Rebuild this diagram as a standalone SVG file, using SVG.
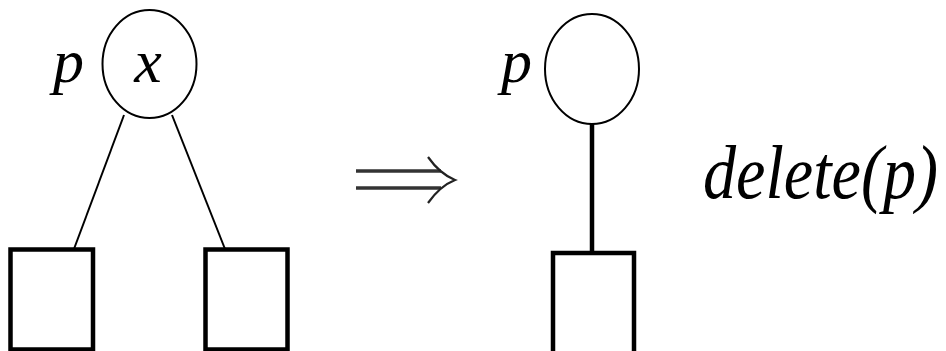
<svg xmlns="http://www.w3.org/2000/svg" width="946" height="351" viewBox="0 0 946 351">
<style>
.lbl{font-family:"Liberation Serif","Times New Roman",serif;font-style:italic;fill:#000}
.circ{fill:none;stroke:#000;stroke-width:2}
.box{fill:#fff;stroke:#000;stroke-width:4.5}
.thin{stroke:#000;stroke-width:2;fill:none}
.thick{stroke:#000;stroke-width:4.5;fill:none}
</style>
<rect width="946" height="351" fill="#fff"/>
<g id="connectors">
<line class="thin" x1="124" y1="115" x2="74" y2="249"/>
<line class="thin" x1="172" y1="115" x2="225" y2="249"/>
<line class="thick" x1="592" y1="124" x2="592" y2="252"/>
</g>
<g id="node-x">
<ellipse class="circ" cx="149.5" cy="64" rx="47" ry="54"/>
<text class="lbl" x="148" y="82" font-size="62" text-anchor="middle">x</text>
</g>
<g id="label-p1"><text class="lbl" x="53" y="82" font-size="62">p</text></g>
<g id="box-left"><rect class="box" x="10.5" y="249.5" width="82.5" height="100"/></g>
<g id="box-right"><rect class="box" x="205.5" y="249.5" width="82" height="100"/></g>
<g id="arrow">
<line x1="356" y1="171" x2="441" y2="171" stroke="#333" stroke-width="3.5"/>
<line x1="356" y1="188" x2="441" y2="188" stroke="#333" stroke-width="3.5"/>
<path d="M428,157 Q440,174 455,180 Q440,186 428,203" fill="none" stroke="#222" stroke-width="2.2"/>
</g>
<g id="node-p2">
<ellipse class="circ" cx="592" cy="69" rx="47" ry="55"/>
</g>
<g id="label-p2"><text class="lbl" x="501" y="82" font-size="62">p</text></g>
<g id="box-bottom"><rect class="box" x="553" y="253" width="81" height="105"/></g>
<g id="label-delete"><text class="lbl" x="703" y="198" font-size="76" textLength="235" lengthAdjust="spacingAndGlyphs">delete(p)</text></g>
</svg>
